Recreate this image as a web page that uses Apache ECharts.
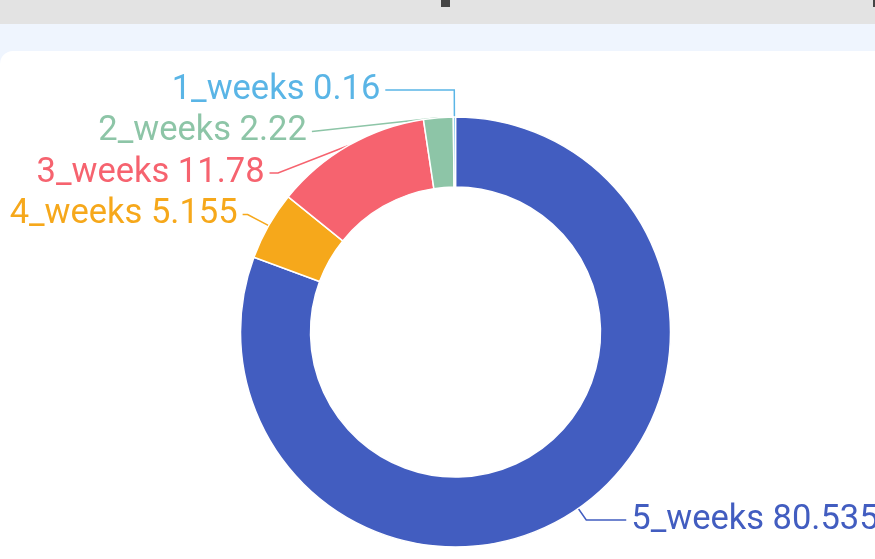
<!DOCTYPE html>
<html>
<head>
<meta charset="utf-8">
<script src="https://cdn.jsdelivr.net/npm/echarts@6/dist/echarts.min.js"></script>
<style>
  html, body { margin: 0; padding: 0; width: 875px; height: 559px; overflow: hidden; background: #ffffff; position: relative; }
  #topbar { position: absolute; left: 0; top: 0; width: 875px; height: 24px; background: #e3e3e3; }
  #mark1 { position: absolute; left: 441px; top: 0; width: 9px; height: 7px; background: #454545; }
  #mark2 { position: absolute; left: 873px; top: 0; width: 4px; height: 7px; background: #454545; }
  #band { position: absolute; left: 0; top: 24px; width: 875px; height: 40px; background: #eff5fe; }
  #card { position: absolute; left: 0; top: 51px; width: 900px; height: 520px; background: #ffffff; border-top-left-radius: 13px; }
  #chart { position: absolute; left: -50px; top: 0; width: 1050px; height: 600px; }
</style>
</head>
<body>
<div id="topbar"></div>
<div id="mark1"></div>
<div id="mark2"></div>
<div id="band"></div>
<div id="card"></div>
<div id="chart"></div>
<script>
const categories = ['5_weeks', '4_weeks', '3_weeks', '2_weeks', '1_weeks'];
const values = [80.535, 5.155, 11.78, 2.22, 0.16];
const colors = ['#425dc0', '#f6a81b', '#f6636f', '#8dc5a7', '#5ab5e6'];
// label guide-line lengths per slice (styling)
const lineLen = [14, 28.5, 27, 27, 27];
const lineLen2 = [40, 5, 8.5, 13, 69];

const chart = echarts.init(document.getElementById('chart'), null, { renderer: 'canvas' });
chart.setOption({
  backgroundColor: 'transparent',
  animation: false,
  series: [{
    type: 'pie',
    center: [505.5, 332],
    radius: [145, 215],
    startAngle: 90,
    clockwise: true,
    avoidLabelOverlap: true,
    itemStyle: { borderColor: '#ffffff', borderWidth: 1.5 },
    label: {
      show: true,
      position: 'outside',
      fontFamily: 'Roboto',
      fontSize: 34.5,
      lineHeight: 39.5,
      formatter: function (p) { return p.name + ' ' + p.value; }
    },
    labelLine: { show: true, lineStyle: { width: 1.5 } },
    data: categories.map(function (c, i) {
      return {
        name: c,
        value: values[i],
        itemStyle: { color: colors[i] },
        label: { color: colors[i] },
        labelLine: { length: lineLen[i], length2: lineLen2[i], lineStyle: { color: colors[i] } }
      };
    })
  }]
});
</script>
</body>
</html>
